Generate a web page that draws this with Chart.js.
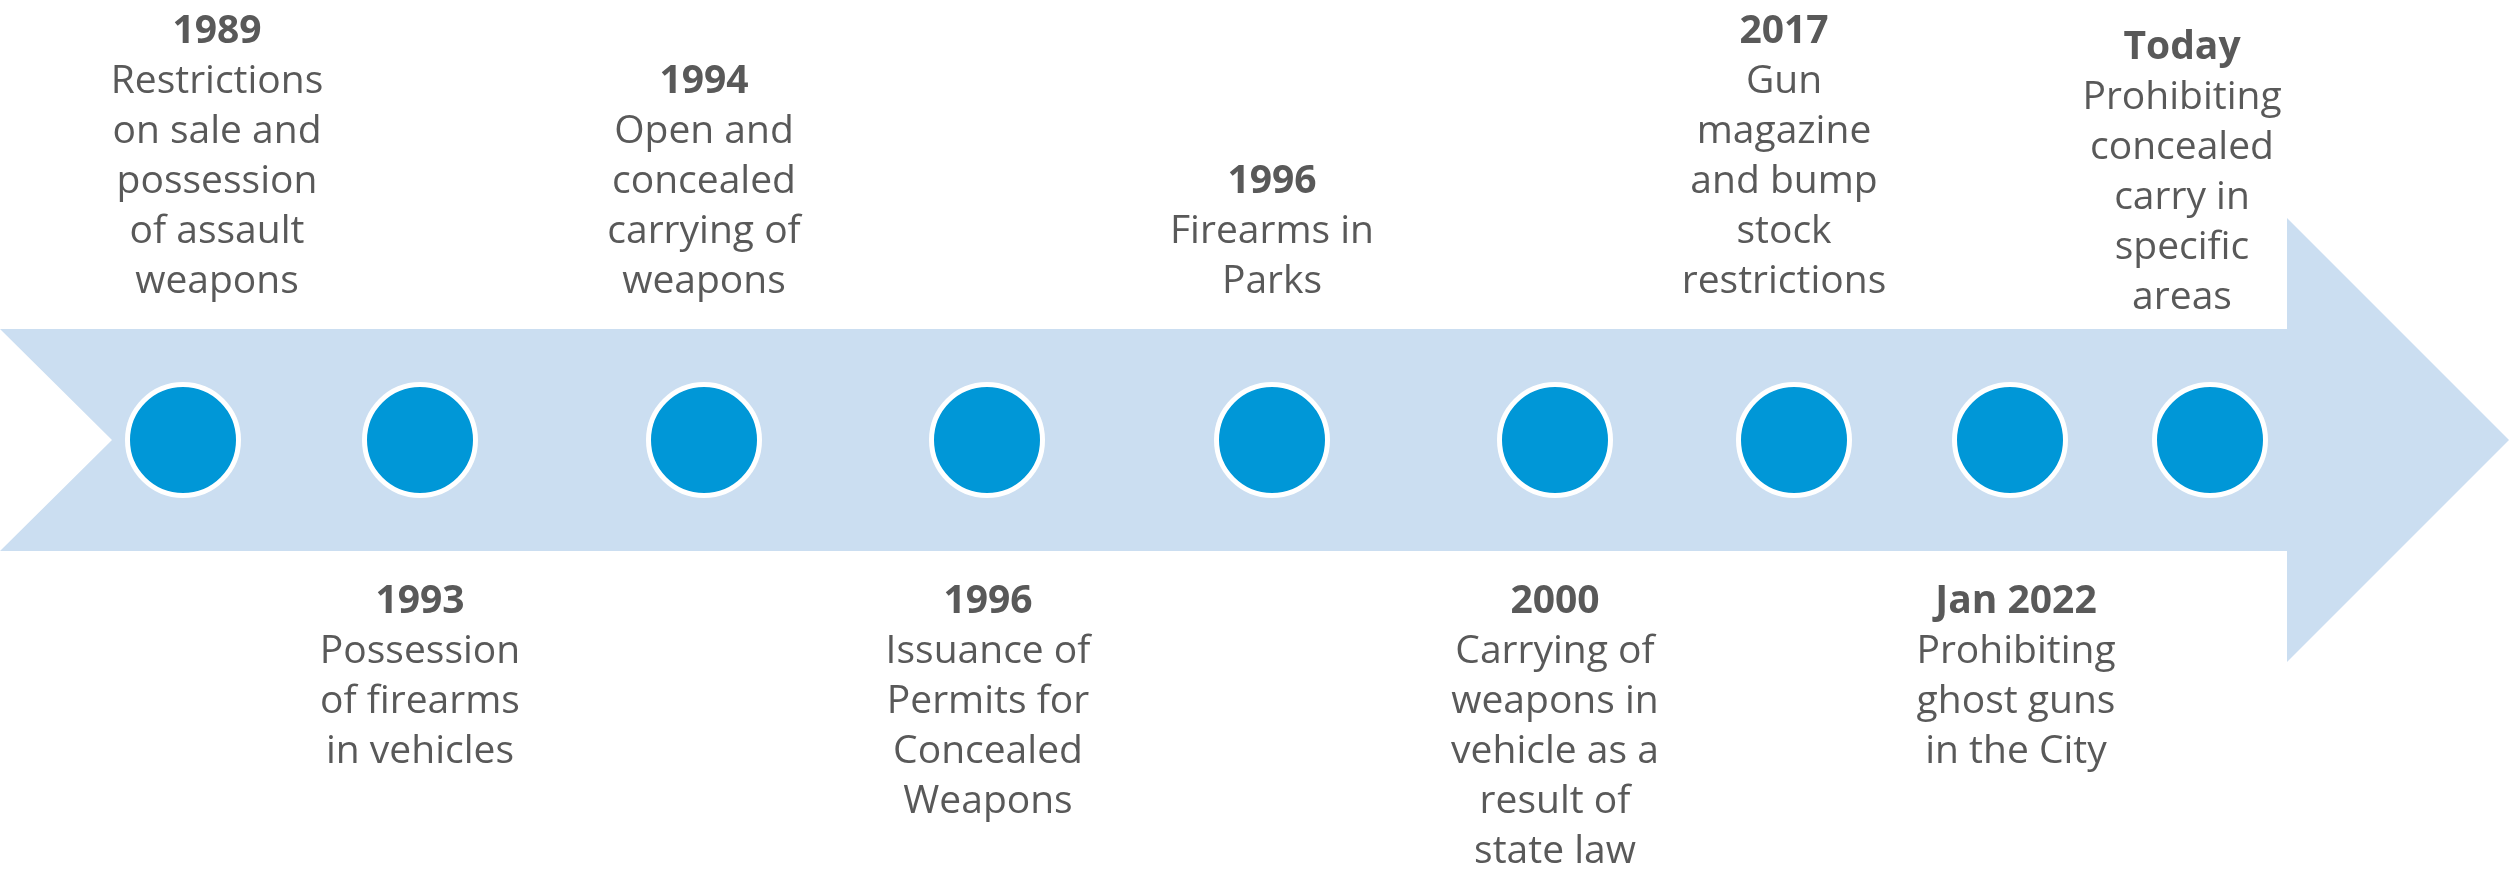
<!DOCTYPE html>
<html>
<head>
<meta charset="utf-8">
<script src="https://cdn.jsdelivr.net/npm/chart.js@4.4.1/dist/chart.umd.min.js"></script>
<style>
  html, body { margin: 0; padding: 0; background: #ffffff; }
  canvas { display: block; }
</style>
</head>
<body>
<canvas id="timeline" width="2509" height="872"></canvas>
<script>
// Timeline of local firearm rules

const years = ['1989', '1993', '1994', '1996', '1996', '2000', '2017', 'Jan 2022', 'Today'];
const events = [
    ['Restrictions', 'on sale and', 'possession', 'of assault', 'weapons'],
    ['Possession', 'of firearms', 'in vehicles'],
    ['Open and', 'concealed', 'carrying of', 'weapons'],
    ['Issuance of', 'Permits for', 'Concealed', 'Weapons'],
    ['Firearms in', 'Parks'],
    ['Carrying of', 'weapons in', 'vehicle as a', 'result of', 'state law'],
    ['Gun', 'magazine', 'and bump', 'stock', 'restrictions'],
    ['Prohibiting', 'ghost guns', 'in the City'],
    ['Prohibiting', 'concealed', 'carry in', 'specific', 'areas']
];
const sides = ['top', 'bottom', 'top', 'bottom', 'top', 'bottom', 'top', 'bottom', 'top'];
// where each dot sits along the arrow
const marks = [183, 420, 704, 987, 1272, 1555, 1794, 2010, 2210];

// layout of the text blocks (not data)
const labelShiftX = [34, 0, 0, 1, 0, 0, -10, 6, -28];
const labelShiftY = [0, 0, 0, 0, 0, 0, 0, 0, 16];

const TEXT_COLOR = '#595959';
const FONT_SIZE = 39;
const LINE_H = 50;

// arrow shape drawn behind the dots
const arrowPlugin = {
    id: 'arrow',
    beforeDatasetsDraw(chart) {
        const ctx = chart.ctx;
        const x = chart.scales.x, y = chart.scales.y;
        ctx.save();
        ctx.fillStyle = '#cbdef1';
        ctx.beginPath();
        ctx.moveTo(x.getPixelForValue(0), y.getPixelForValue(111));
        ctx.lineTo(x.getPixelForValue(2287), y.getPixelForValue(111));
        ctx.lineTo(x.getPixelForValue(2287), y.getPixelForValue(222));
        ctx.lineTo(x.getPixelForValue(2509), y.getPixelForValue(0));
        ctx.lineTo(x.getPixelForValue(2287), y.getPixelForValue(-222));
        ctx.lineTo(x.getPixelForValue(2287), y.getPixelForValue(-111));
        ctx.lineTo(x.getPixelForValue(0), y.getPixelForValue(-111));
        ctx.lineTo(x.getPixelForValue(112), y.getPixelForValue(0));
        ctx.closePath();
        ctx.fill();
        ctx.restore();
    }
};

// year + description above or below each dot
const labelPlugin = {
    id: 'labels',
    afterDatasetsDraw(chart) {
        const ctx = chart.ctx;
        const x = chart.scales.x, y = chart.scales.y;
        ctx.save();
        ctx.fillStyle = TEXT_COLOR;
        ctx.textAlign = 'center';
        ctx.textBaseline = 'alphabetic';
        marks.forEach((m, i) => {
            const cx = x.getPixelForValue(m) + labelShiftX[i];
            const lines = [years[i]].concat(events[i]);
            let base;
            if (sides[i] === 'top') {
                // last line sits just above the arrow body
                base = y.getPixelForValue(0) - 147 - (lines.length - 1) * LINE_H;
            } else {
                base = y.getPixelForValue(0) + 173;
            }
            base += labelShiftY[i];
            lines.forEach((txt, k) => {
                ctx.font = (k === 0 ? 'bold ' : '') + FONT_SIZE + 'px "Open Sans"';
                ctx.fillText(txt, cx, base + k * LINE_H);
            });
        });
        ctx.restore();
    }
};

const chart = new Chart(document.getElementById('timeline').getContext('2d'), {
    type: 'scatter',
    data: {
        datasets: [{
            data: marks.map(m => ({ x: m, y: 0 })),
            backgroundColor: '#0097d7',
            borderColor: '#ffffff',
            borderWidth: 5,
            pointRadius: 55.5,
            pointHoverRadius: 55.5,
            clip: false
        }]
    },
    options: {
        responsive: false,
        animation: false,
        events: [],
        layout: { padding: 0, autoPadding: false },
        plugins: { legend: { display: false }, tooltip: { enabled: false } },
        scales: {
            x: { type: 'linear', min: 0, max: 2509, display: false },
            y: { type: 'linear', min: -432, max: 440, display: false }
        }
    },
    plugins: [arrowPlugin, labelPlugin]
});
</script>
</body>
</html>
